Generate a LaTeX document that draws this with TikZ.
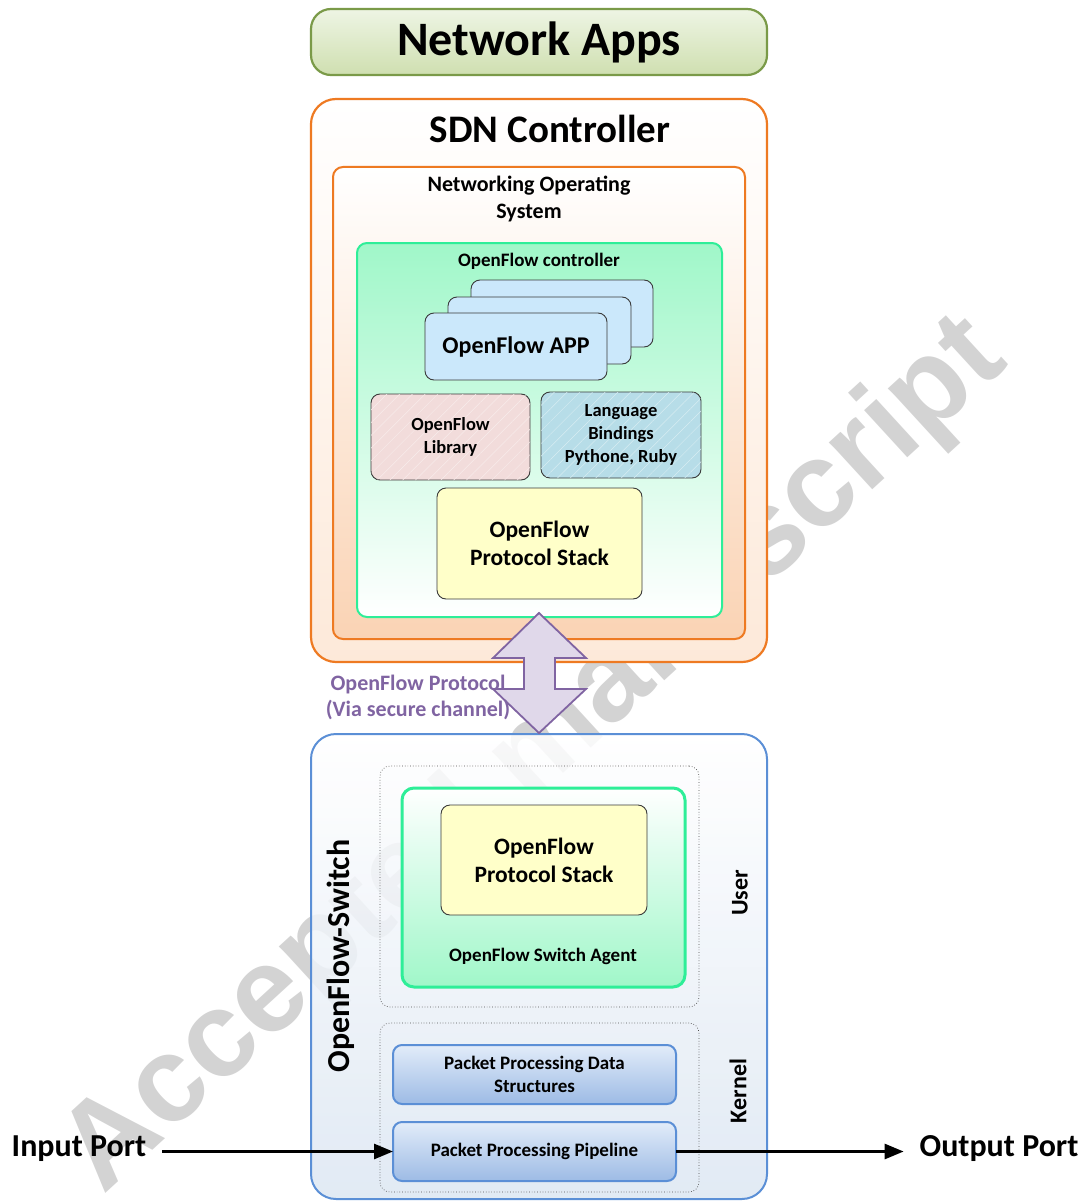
\documentclass[tikz,border=0pt]{standalone}
\usepackage{fontspec}
\setmainfont{Carlito}
\newfontfamily\wmfont{Liberation Sans}
\usetikzlibrary{patterns.meta,arrows.meta}
\definecolor{appsline}{HTML}{7A9A48}
\definecolor{appstop}{HTML}{EEF5E4}
\definecolor{appsbot}{HTML}{CFDFB0}
\definecolor{orline}{HTML}{EE7A22}
\definecolor{peach}{HTML}{FDE9D9}
\definecolor{peachdk}{HTML}{FAD3B4}
\definecolor{gline}{HTML}{2EEE98}
\definecolor{gfill}{HTML}{A0F7C9}
\definecolor{appfill}{HTML}{CBE8FB}
\definecolor{libfill}{HTML}{F2DCDB}
\definecolor{langfill}{HTML}{B7DDE8}
\definecolor{stackfill}{HTML}{FFFFC9}
\definecolor{purp}{HTML}{8064A2}
\definecolor{purpfill}{HTML}{E0D8EA}
\definecolor{bline}{HTML}{5B8FD6}
\definecolor{bfill}{HTML}{DCE6F2}
\definecolor{pktop}{HTML}{E2ECF9}
\definecolor{pkbot}{HTML}{9DBBE5}
\definecolor{inner}{HTML}{3A3A3A}
\definecolor{wmgray}{HTML}{D3D3D3}
\begin{document}
\begin{tikzpicture}[x=1pt,y=-1pt,
  every node/.style={inner sep=0pt, outer sep=0pt, font=\bfseries},
  blk/.style={draw=inner, line width=0.9pt, rounded corners=9pt},
  dotbox/.style={draw=black!70, line width=0.7pt, dotted, rounded corners=10pt},
  pkt/.style={draw=bline, line width=2pt, rounded corners=9pt, top color=pktop, bottom color=pkbot,
     minimum width=283pt, minimum height=59pt, align=center, font=\fontsize{19}{23}\selectfont\bfseries},
  arr/.style={line width=2.8pt, -{Triangle[length=19pt,width=15pt]}},
  hatch/.style={postaction={pattern={Lines[angle=45,distance=9pt,line width=0.5pt]}, pattern color=white!45!#1}}
]
\useasboundingbox (0,0) rectangle (1083,1201);

% watermark (behind the diagram)
\node[rotate=42.5, anchor=base west, text=wmgray, font=\fontsize{121}{125}\selectfont\wmfont\bfseries] (wm) at (103,1195) {Accepted manuscript};

% Network Apps
\node[draw=appsline, line width=2.2pt, rounded corners=20pt, top color=appstop, bottom color=appsbot,
  minimum width=456pt, minimum height=66pt, font=\fontsize{48}{52}\selectfont\bfseries] (apps) at (539,42) {Network Apps};

% SDN controller
\node[draw=orline, line width=2.2pt, rounded corners=25pt, top color=white, bottom color=peach,
  minimum width=456pt, minimum height=563pt] (sdn) at (539,380.5) {};
\node[font=\fontsize{39}{42}\selectfont\bfseries] (sdnt) at (550,129) {SDN Controller};

\node[draw=orline, line width=2pt, rounded corners=10pt, top color=white, bottom color=peachdk,
  minimum width=412pt, minimum height=472pt] (nos) at (539,403) {};
\node[align=center, font=\fontsize{22}{27}\selectfont\bfseries] (nost) at (529,199) {Networking Operating\\System};

\node[draw=gline, line width=2pt, rounded corners=10pt, top color=gfill, bottom color=white,
  minimum width=365pt, minimum height=374pt] (ofc) at (539.5,430) {};
\node[font=\fontsize{19}{22}\selectfont\bfseries] (ofct) at (539,261) {OpenFlow controller};

\node[blk, fill=appfill, minimum width=182pt, minimum height=67pt] (app3) at (562,313.5) {};
\node[blk, fill=appfill, minimum width=183pt, minimum height=67pt] (app2) at (539.5,330.5) {};
\node[blk, fill=appfill, minimum width=182pt, minimum height=67pt, font=\fontsize{24}{28}\selectfont\bfseries] (app1) at (516,346.5) {OpenFlow APP};

\node[blk, fill=libfill, hatch=libfill, minimum width=159pt, minimum height=86pt, align=center,
  font=\fontsize{18.5}{23}\selectfont\bfseries] (lib) at (450.5,437) {OpenFlow\\Library};
\node[blk, fill=langfill, hatch=langfill, minimum width=160pt, minimum height=86pt, align=center,
  font=\fontsize{18.5}{23}\selectfont\bfseries] (lang) at (621,435) {Language\\Bindings\\Pythone, Ruby};

\node[blk, fill=stackfill, minimum width=205pt, minimum height=111pt, align=center,
  font=\fontsize{23.5}{28}\selectfont\bfseries] (stack1) at (539.5,543.5) {OpenFlow\\Protocol Stack};

% OpenFlow switch
\node[draw=bline, line width=2pt, rounded corners=25pt, top color=white, bottom color=bfill, fill opacity=0.85,
  minimum width=456pt, minimum height=465pt] (sw) at (539,966.5) {};
\node[rotate=90, font=\fontsize{32}{34}\selectfont\bfseries] (swt) at (341,956) {OpenFlow-Switch};

\node[dotbox, minimum width=319pt, minimum height=241pt] (user) at (539.5,886.5) {};
\node[draw=gline, line width=3pt, rounded corners=12pt, top color=white, bottom color=gfill,
  minimum width=283pt, minimum height=199pt] (agent) at (543.5,887.5) {};
\node[blk, fill=stackfill, minimum width=206pt, minimum height=110pt, align=center,
  font=\fontsize{23.5}{28}\selectfont\bfseries] (stack2) at (544,860) {OpenFlow\\Protocol Stack};
\node[font=\fontsize{19}{22}\selectfont\bfseries] (agentt) at (543,956) {OpenFlow Switch Agent};
\node[rotate=90, font=\fontsize{24}{26}\selectfont\bfseries] (usert) at (740,893) {User};

\node[dotbox, minimum width=319pt, minimum height=169pt] (kern) at (539.5,1107.5) {};
\node[pkt] (pds) at (534.5,1074.5) {Packet Processing Data\\Structures};
\node[pkt] (pipe) at (534.5,1151.5) {Packet Processing Pipeline};
\node[rotate=90, font=\fontsize{24}{26}\selectfont\bfseries] (kernt) at (738,1091) {Kernel};

% OpenFlow protocol double arrow
\draw[draw=purp, fill=purpfill, line width=1.8pt, line join=miter]
  (539,613) -- (586,658) -- (555,658) -- (555,689) -- (586,689) -- (539,733)
  -- (493,689) -- (524,689) -- (524,658) -- (493,658) -- cycle;
\node[align=center, text=purp, font=\fontsize{22}{26}\selectfont\bfseries] (proto) at (418,697) {OpenFlow Protocol\\(Via secure channel)};

% ports
\node[font=\fontsize{32}{34}\selectfont\bfseries] (inp) at (79,1149) {Input Port};
\node[font=\fontsize{32}{34}\selectfont\bfseries] (outp) at (999,1149) {Output Port};
\draw[arr] ([xshift=16pt]inp.east |- pipe.west) -- (pipe.west);
\draw[arr] (pipe.east) -- ([xshift=-16pt]outp.west |- pipe.east);
\end{tikzpicture}
\end{document}
